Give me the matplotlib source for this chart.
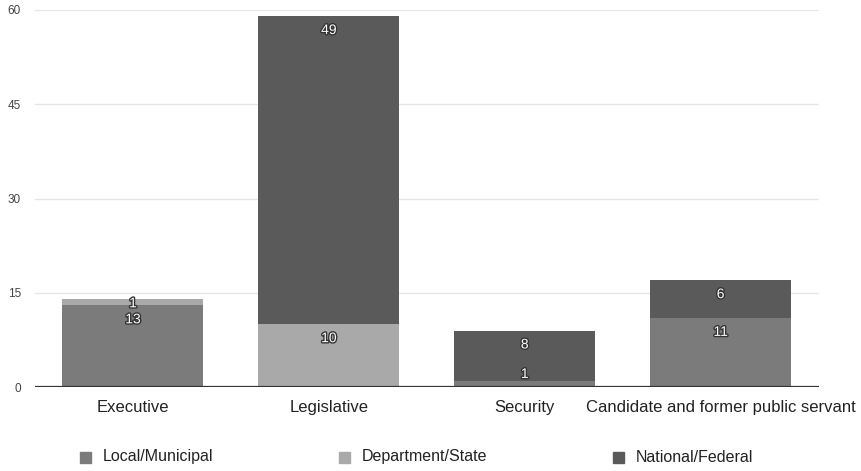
import matplotlib.pyplot as plt
import matplotlib.patheffects as pe
from matplotlib.patches import Rectangle
import numpy as np

plt.rcParams['font.family'] = ['Liberation Sans', 'DejaVu Sans']

categories = ['Executive', 'Legislative', 'Security', 'Candidate and former public servant']
local = [13, 0, 1, 11]
department = [1, 10, 0, 0]
national = [0, 49, 8, 6]

series = [('Local/Municipal', local, '#7b7b7b'),
          ('Department/State', department, '#a9a9a9'),
          ('National/Federal', national, '#5a5a5a')]

fig = plt.figure(figsize=(8.62, 4.71), dpi=100)
ax = fig.add_axes([0.0406, 0.178, 0.909, 0.801])

x = np.arange(len(categories))
bottom = np.zeros(len(categories))
outline = [pe.withStroke(linewidth=2, foreground='#333333')]
for name, vals, col in series:
    vals = np.array(vals, dtype=float)
    ax.bar(x, vals, 0.72, bottom=bottom, color=col, zorder=2, label=name)
    for xi, v, b in zip(x, vals, bottom):
        if v <= 0:
            continue
        top = b + v
        dy = -10 if v >= 3 else (-3 if b > 0 else 5)
        ax.annotate(str(int(v)), (xi, top), xytext=(0, dy), textcoords='offset points',
                    ha='center', va='center', fontsize=10, color='white',
                    path_effects=outline, zorder=4)
    bottom += vals

ax.set_xlim(-0.5, 3.5)
ax.set_ylim(0, 60)
ax.set_yticks([0, 15, 30, 45, 60])
ax.grid(axis='y', color='#e6e6e6', linewidth=1, zorder=0)
ax.axhline(0, color='#333333', linewidth=1.6, zorder=3)
for s in ax.spines.values():
    s.set_visible(False)
ax.tick_params(axis='y', length=0, pad=10, labelsize=8.5, labelcolor='#444444')
ax.tick_params(axis='x', length=0, pad=9, labelsize=12, labelcolor='#222222')
ax.set_xticks(x)
ax.set_xticklabels(categories)

# legend row under the axis
legend_x = [80, 339, 613]
for (name, vals, col), lx in zip(series, legend_x):
    fig.add_artist(Rectangle((lx / 862, (471 - 463) / 471), 11 / 862, 11 / 471,
                             transform=fig.transFigure, color=col))
    fig.text((lx + 23) / 862, (471 - 457) / 471, name, fontsize=11.5,
             color='#222222', va='center', ha='left')

fig.savefig('out.png', dpi=100)
